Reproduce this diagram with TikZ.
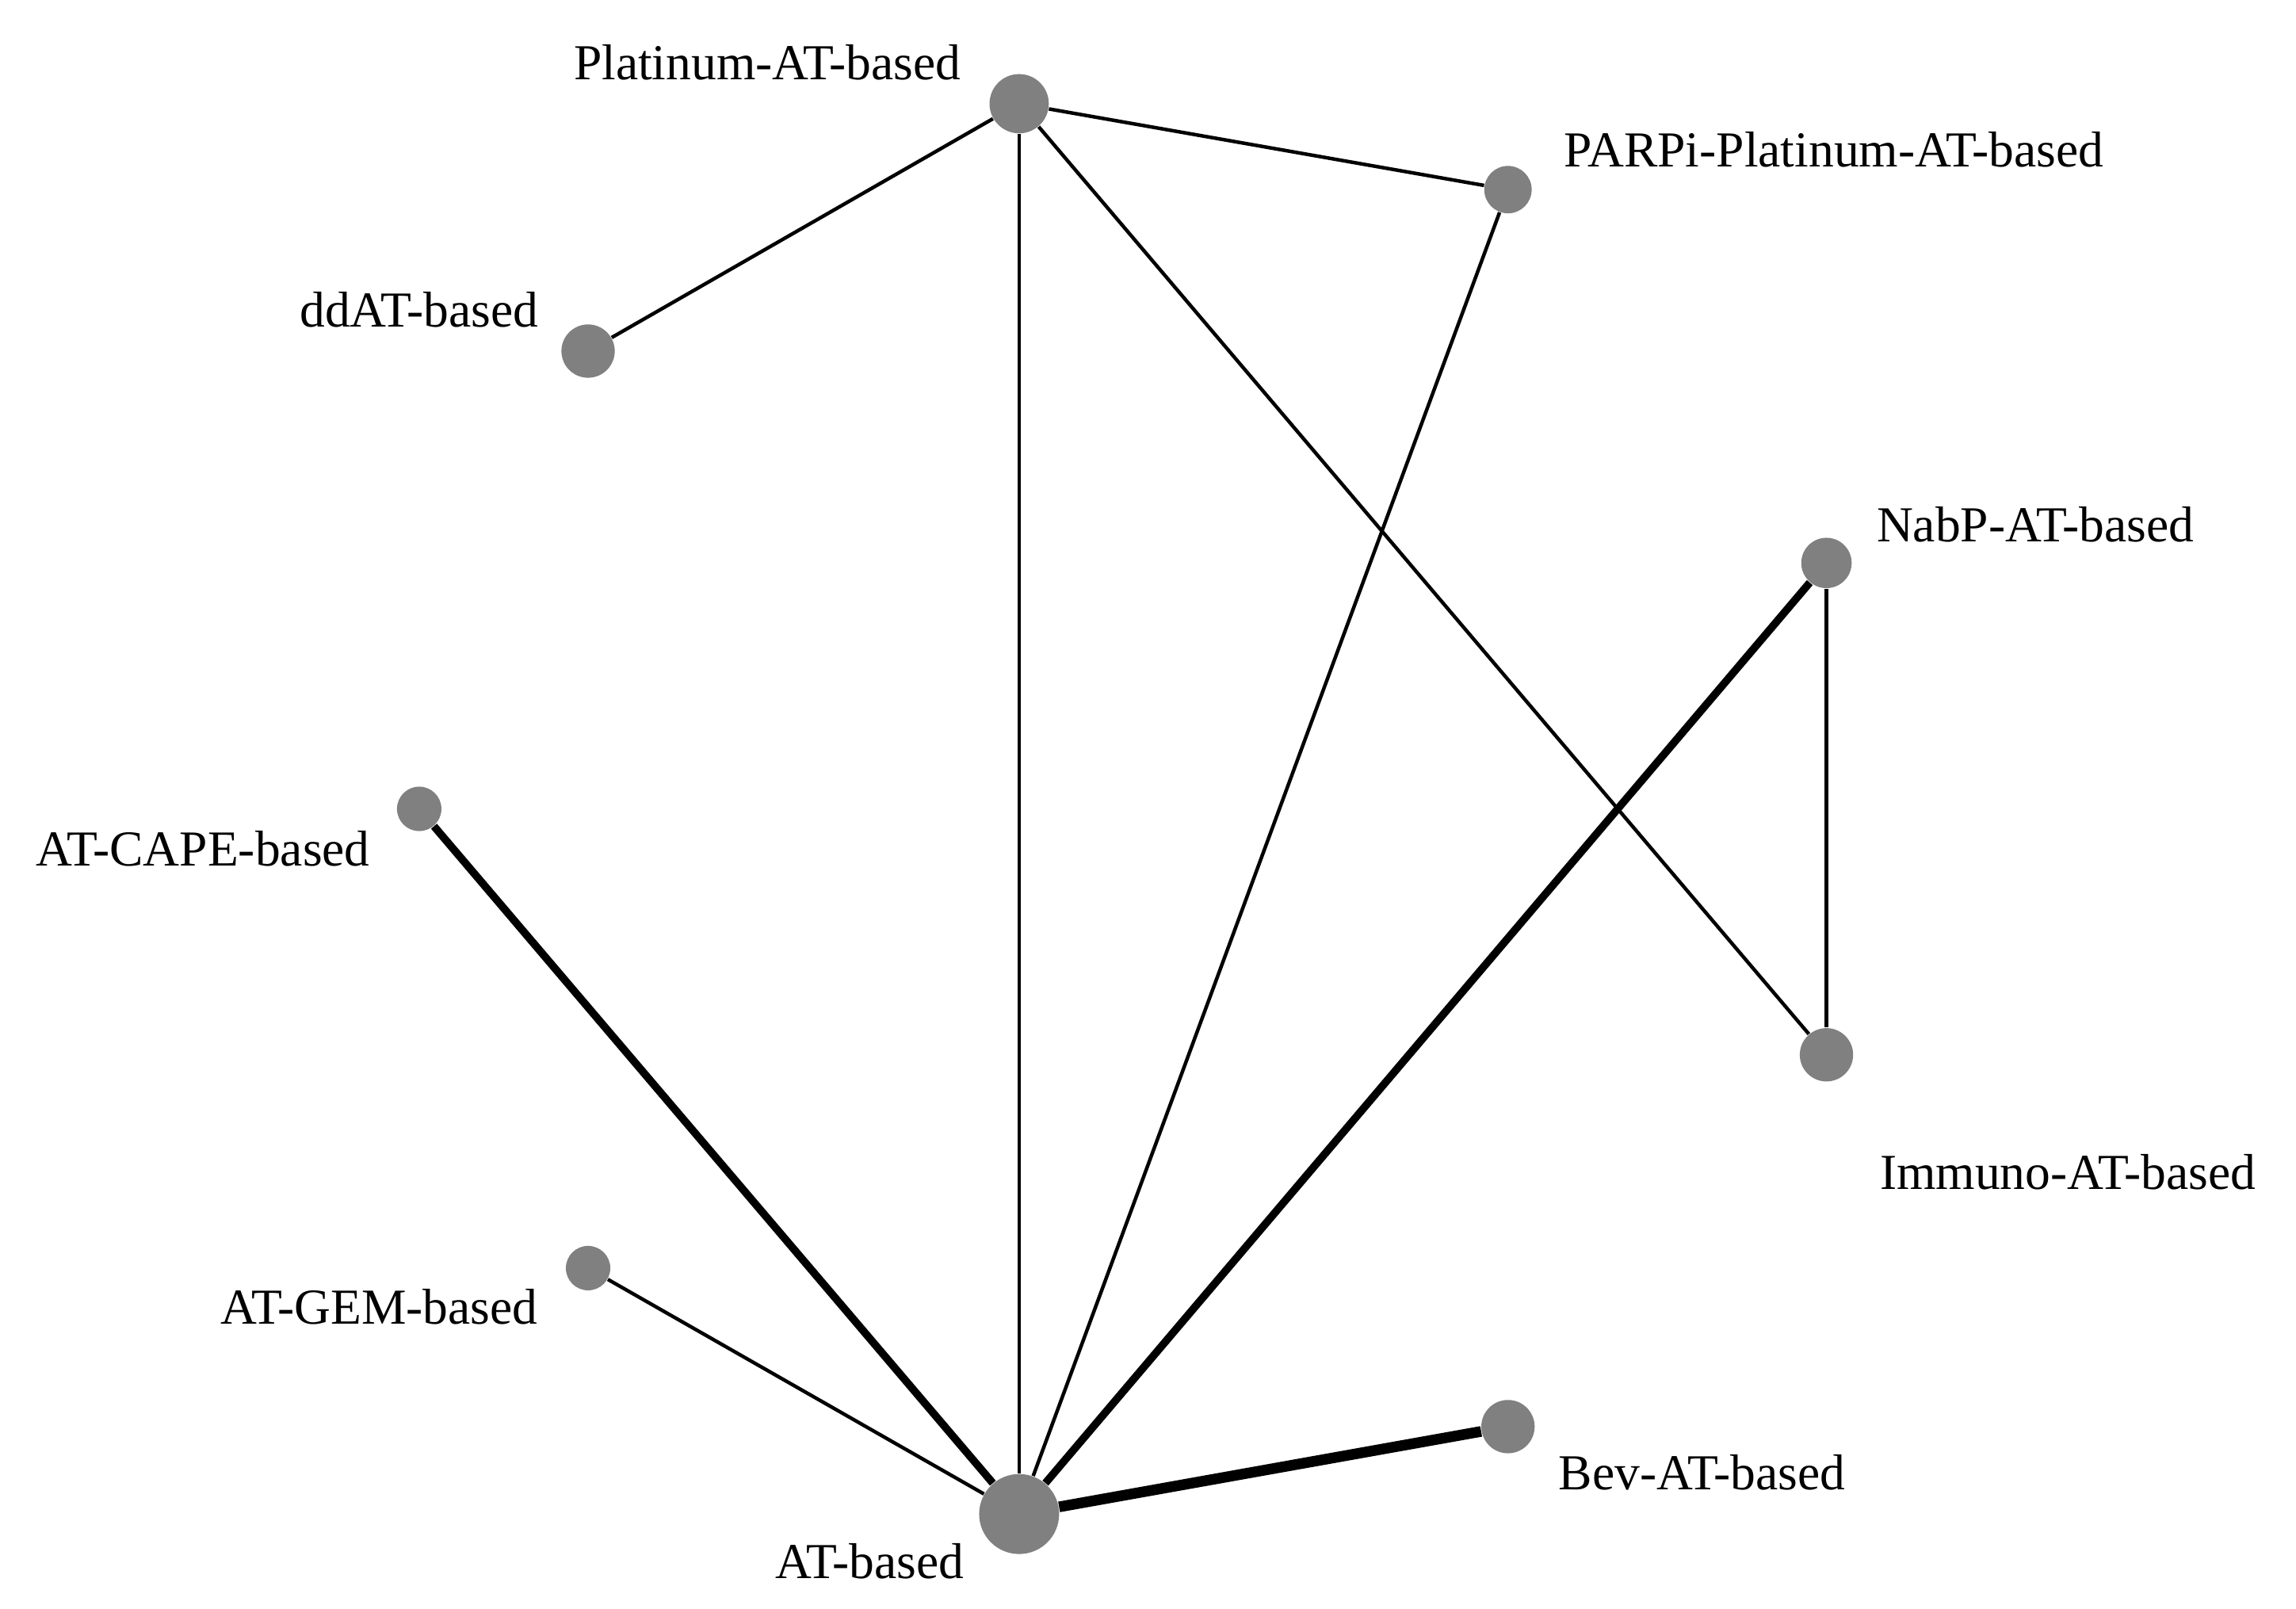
\documentclass[tikz,border=0pt]{standalone}
\usepackage{fontspec}
\setmainfont{Liberation Serif}
\usetikzlibrary{positioning}
\begin{document}
\begin{tikzpicture}[x=0.5pt,y=-0.5pt,line join=bevel,
  trt/.style={draw=none,fill=gray,circle,inner sep=0pt},
  lbl/.style={font=\fontsize{17}{20}\selectfont},
  thin/.style={line width=1.2pt},
  thick/.style={line width=2.6pt},
  heavy/.style={line width=3.6pt}]
\useasboundingbox (0,0) rectangle (1550,1086);
%% treatments
\node (PLAT) at (688,70) [trt,minimum size=20] {};
\node (PARP) at (1018,128) [trt,minimum size=16] {};
\node (DDAT) at (397,237) [trt,minimum size=18] {};
\node (NABP) at (1233,380) [trt,minimum size=17] {};
\node (IMMU) at (1233,712) [trt,minimum size=18] {};
\node (CAPE) at (283,546) [trt,minimum size=15] {};
\node (GEM) at (397,856) [trt,minimum size=15] {};
\node (BEV) at (1018,963) [trt,minimum size=18] {};
\node (AT) at (688,1022) [trt,minimum size=27] {};
%% comparisons
\draw [thin] (PLAT) -- (PARP);
\draw [thin] (PLAT) -- (DDAT);
\draw [thin] (PLAT) -- (AT);
\draw [thin] (PLAT) -- (IMMU);
\draw [thin] (PARP) -- (AT);
\draw [thin] (NABP) -- (IMMU);
\draw [thick] (NABP) -- (AT);
\draw [thick] (CAPE) -- (AT);
\draw [thin] (GEM) -- (AT);
\draw [heavy] (BEV) -- (AT);
%% labels
\node (lPLAT) at (518,42) [lbl] {Platinum-AT-based};
\node (lPARP) at (1238,101) [lbl] {PARPi-Platinum-AT-based};
\node (lDDAT) at (283,209) [lbl] {ddAT-based};
\node (lNABP) at (1374,354) [lbl] {NabP-AT-based};
\node (lIMMU) at (1396,791) [lbl] {Immuno-AT-based};
\node (lCAPE) at (137,573) [lbl] {AT-CAPE-based};
\node (lGEM) at (256,882) [lbl] {AT-GEM-based};
\node (lBEV) at (1149,994) [lbl] {Bev-AT-based};
\node (lAT) at (587,1054) [lbl] {AT-based};
\end{tikzpicture}
\end{document}
